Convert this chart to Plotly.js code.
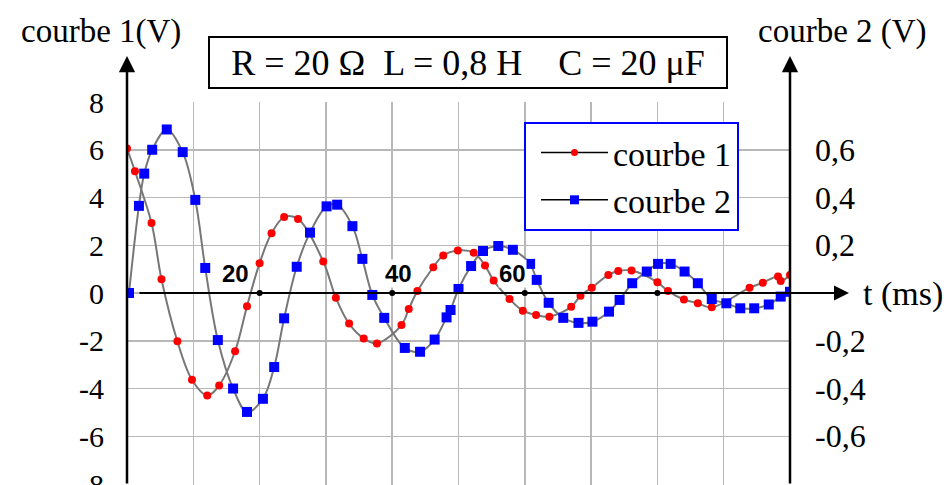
<!DOCTYPE html>
<html>
<head>
<meta charset="utf-8">
<script src="https://cdn.plot.ly/plotly-3.0.1.min.js"></script>
<style>html,body{margin:0;padding:0;background:#fff;}#chart{width:949px;height:485px;}</style>
</head>
<body>
<div id="chart"></div>
<script>
// ---- data ----
// courbe 1 : left axis (V)
var t1 = [0, 1.2, 3.7, 5.2, 7.6, 9.8, 12.1, 13.9, 16.3, 18.1, 20.0, 21.8, 23.7, 25.8, 29.6, 31.5, 33.5, 35.7, 37.7, 41.4, 42.5, 43.8, 46.2, 47.7, 49.9, 52.3, 54.0, 55.3, 57.7, 59.7, 61.7, 63.7, 67.0, 68.4, 70.1, 72.6, 74.1, 76.1, 80.0, 81.6, 84.0, 86.1, 88.2, 93.9, 95.9, 98.2, 98.6, 100];
var u1 = [6.05, 5.1, 2.93, 0.58, -2.02, -3.63, -4.29, -3.87, -2.44, -0.55, 1.25, 2.5, 3.18, 3.1, 1.32, -0.2, -1.28, -1.9, -2.11, -1.34, -0.67, 0.08, 1.08, 1.57, 1.78, 1.69, 1.15, 0.52, -0.25, -0.74, -0.92, -0.99, -0.58, -0.11, 0.22, 0.76, 0.92, 0.94, 0.45, 0.08, -0.27, -0.43, -0.6, 0.22, 0.43, 0.69, 0.5, 0.75];
// courbe 2 : right axis (V)
var t2 = [0.3, 1.8, 2.6, 3.8, 6.0, 8.4, 10.3, 11.8, 13.7, 16.0, 18.1, 20.5, 22.2, 23.7, 25.6, 27.6, 30.1, 31.7, 34.0, 35.5, 37.0, 38.8, 41.9, 44.2, 46.4, 48.2, 48.8, 50.0, 51.9, 53.7, 56.0, 58.2, 60.8, 61.8, 63.6, 65.8, 68.1, 70.2, 72.7, 74.3, 76.2, 78.4, 80.1, 82.0, 84.1, 86.1, 88.2, 90.4, 92.5, 94.6, 96.8, 98.6, 100];
var u2 = [0, 0.365, 0.5, 0.6, 0.685, 0.59, 0.39, 0.105, -0.197, -0.4, -0.498, -0.443, -0.31, -0.106, 0.11, 0.253, 0.363, 0.37, 0.28, 0.143, -0.008, -0.104, -0.23, -0.246, -0.195, -0.102, -0.071, 0.017, 0.113, 0.176, 0.197, 0.181, 0.122, 0.055, -0.041, -0.104, -0.125, -0.12, -0.078, -0.029, 0.041, 0.09, 0.122, 0.122, 0.09, 0.041, -0.025, -0.043, -0.064, -0.064, -0.048, -0.015, 0.005];

var yTickVals = [-8, -6, -4, -2, 0, 2, 4, 6, 8];
var yTickText = ['-8', '-6', '-4', '-2', '0', '2', '4', '6', '8'];
var y2TickVals = [-0.6, -0.4, -0.2, 0.2, 0.4, 0.6];
var y2TickText = ['-0,6', '-0,4', '-0,2', '0,2', '0,4', '0,6'];
var xTickVals = [20, 40, 60, 80];
var xTickText = ['20', '40', '60', ''];

var seriesNames = ['courbe 1', 'courbe 2'];
var titleText = 'R = 20\u00a0\u03a9\u00a0\u00a0L = 0,8 H\u00a0\u00a0\u00a0\u00a0C = 20\u00a0\u03bcF';

// ---- layout helpers ----
var L = 127, R = 159, T = 102, B = 0, W = 949, H = 485;
var pw = W - L - R, ph = H - T - B;
function px(x) { return (x - L) / pw; }
function py(y) { return (H - B - y) / ph; }

var SERIF = 'Liberation Serif, Times New Roman, serif';
var grey = '#777777';

var traces = [
  { x: t1, y: u1, mode: 'lines+markers', yaxis: 'y', showlegend: false,
    line: { color: grey, width: 2, shape: 'spline', smoothing: 1 },
    marker: { color: '#ff0000', size: 8, symbol: 'circle' }, hoverinfo: 'skip' },
  { x: t2, y: u2, mode: 'lines+markers', yaxis: 'y2', showlegend: false,
    line: { color: grey, width: 2, shape: 'spline', smoothing: 1 },
    marker: { color: '#0000ff', size: 10, symbol: 'square' }, hoverinfo: 'skip' },
  // legend entries
  { x: [null], y: [null], mode: 'lines+markers', name: seriesNames[0],
    line: { color: '#000', width: 1.5 }, marker: { color: '#ff0000', size: 7, symbol: 'circle' } },
  { x: [null], y: [null], mode: 'lines+markers', name: seriesNames[1],
    line: { color: '#000', width: 1.5 }, marker: { color: '#0000ff', size: 9, symbol: 'square' } },
  // tick dots on the time axis
  { x: xTickVals, y: xTickVals.map(function () { return 0; }), mode: 'markers', showlegend: false,
    marker: { color: '#000', size: 6 }, hoverinfo: 'skip', cliponaxis: false }
];

var annotations = [];
function txt(x, y, text, size, extra) {
  var a = { xref: 'paper', yref: 'paper', x: x, y: y, xanchor: 'center', yanchor: 'middle', text: text,
    showarrow: false, font: { family: SERIF, size: size, color: '#000' } };
  for (var k in (extra || {})) a[k] = extra[k];
  return a;
}
// axis arrows
annotations.push({ xref: 'paper', yref: 'paper', x: 0, y: py(56), ax: 0, ay: H - 56, axref: 'pixel', ayref: 'pixel',
  text: '', showarrow: true, arrowhead: 2, arrowsize: 1.3, arrowwidth: 2.5, arrowcolor: '#000' });
annotations.push({ xref: 'paper', yref: 'paper', x: 1, y: py(56), ax: 0, ay: H - 56, axref: 'pixel', ayref: 'pixel',
  text: '', showarrow: true, arrowhead: 2, arrowsize: 1.3, arrowwidth: 2.5, arrowcolor: '#000' });
annotations.push({ xref: 'paper', yref: 'y', x: px(849), y: 0, ax: -(849 - 138), ay: 0, axref: 'pixel', ayref: 'pixel',
  text: '', showarrow: true, arrowhead: 2, arrowsize: 1.5, arrowwidth: 2, arrowcolor: '#000' });
// axis titles
annotations.push(txt(px(101), py(31), 'courbe 1(V)', 33));
annotations.push(txt(px(842), py(31), 'courbe 2 (V)', 33));
annotations.push(txt(px(903), 0, 't (ms)', 34, { yref: 'y', yshift: -1 }));
// parameter box
annotations.push(txt(px(468), py(62.5), titleText, 36, {
  width: 514, height: 47, bordercolor: '#000', borderwidth: 2, borderpad: 1, bgcolor: '#fff' }));
// time tick labels
var labelShift = [-24, 6, -12];
xTickText.forEach(function (t, i) {
  if (!t) return;
  annotations.push({ xref: 'x', yref: 'y', x: xTickVals[i], y: 0, xanchor: 'center', yanchor: 'middle',
    xshift: labelShift[i], yshift: 20, text: '<b>' + t + '</b>', showarrow: false, bgcolor: '#fff', borderpad: 0,
    font: { family: 'Liberation Sans, Arial, sans-serif', size: 24, color: '#000' } });
});

var layout = {
  width: W, height: H,
  margin: { l: L, r: R, t: T, b: B, pad: 0 },
  paper_bgcolor: '#fff', plot_bgcolor: '#fff',
  hovermode: false,
  showlegend: true,
  font: { family: SERIF, color: '#000' },
  xaxis: { range: [0, 100], dtick: 10, tick0: 0, showgrid: true, gridcolor: '#b8b8b8', gridwidth: 1.5,
    zeroline: false, showline: false, showticklabels: false, ticks: '', fixedrange: true },
  yaxis: { range: [-8.04, 8], tickvals: yTickVals, ticktext: yTickText, showgrid: true, gridcolor: '#b8b8b8', gridwidth: 1.5,
    zeroline: false, showline: false, ticks: '', ticklabelstandoff: 22, ticklabeloverflow: 'allow',
    tickfont: { family: SERIF, size: 30, color: '#000' }, fixedrange: true },
  yaxis2: { range: [-0.804, 0.8], overlaying: 'y', side: 'right', tickvals: y2TickVals, ticktext: y2TickText,
    showgrid: false, zeroline: false, showline: false, ticks: '', ticklabelstandoff: 24,
    tickfont: { family: SERIF, size: 32, color: '#000' }, fixedrange: true },
  legend: { x: px(524), y: py(122), xanchor: 'left', yanchor: 'top', bgcolor: '#fff',
    bordercolor: '#0000ff', borderwidth: 2, itemwidth: 67, indentation: 10,
    font: { family: SERIF, size: 34, color: '#000' }, tracegroupgap: 0 },
  annotations: annotations
};

Plotly.newPlot('chart', traces, layout, { displayModeBar: false, staticPlot: true });
</script>
</body>
</html>
